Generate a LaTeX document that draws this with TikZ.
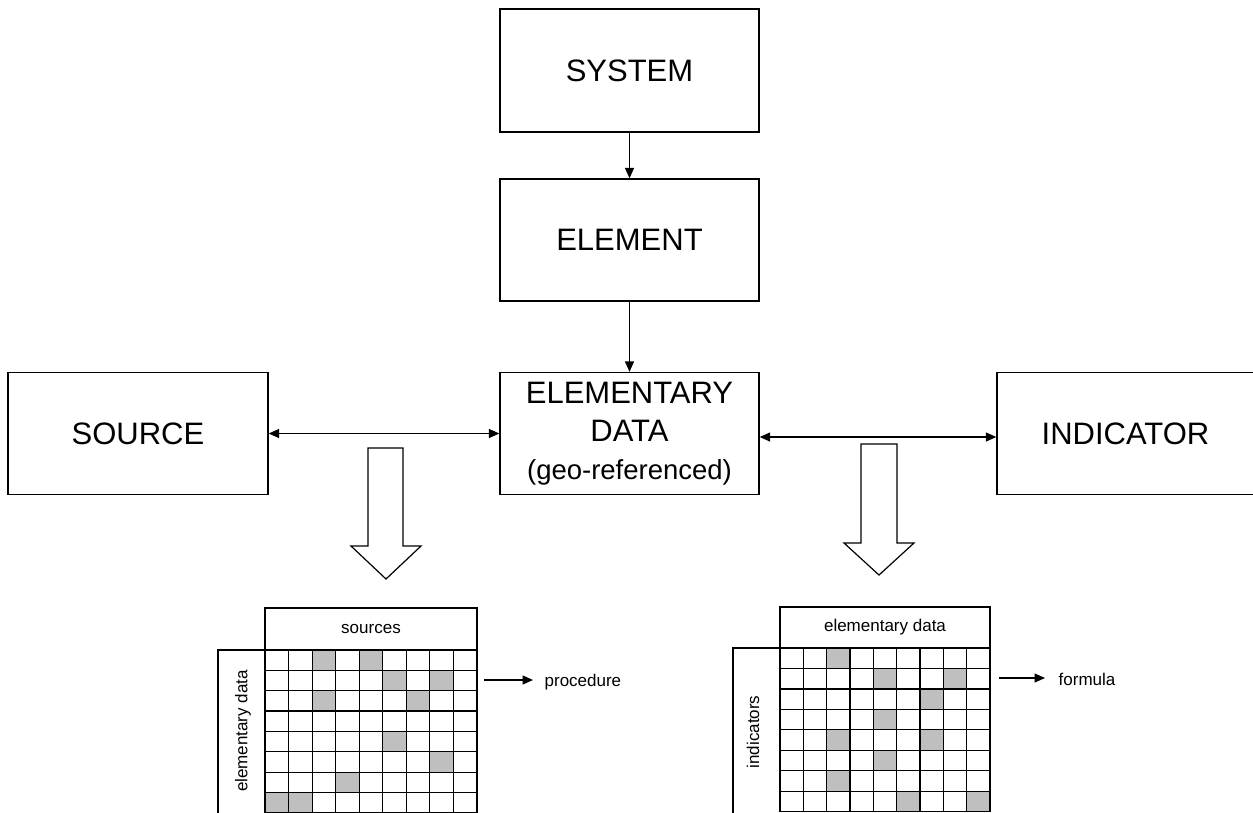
\documentclass[tikz,border=0pt]{standalone}
\usepackage{fontspec}
\setmainfont{Liberation Sans}
\usetikzlibrary{arrows.meta}
\begin{document}
\begin{tikzpicture}[x=1pt,y=-1pt,
  line width=1.3pt,
  bigbox/.style={draw, minimum width=259pt, minimum height=122pt, inner sep=0pt,
     font=\fontsize{31}{38}\selectfont, align=center},
  conn/.style={-{Triangle[length=10.5pt,width=9pt]}},
  dconn/.style={{Triangle[length=10.5pt,width=9pt]}-{Triangle[length=10.5pt,width=9pt]}},
  hollow/.style={draw, fill=white, line width=1.2pt, line join=miter},
  cell/.style={draw, line width=1.2pt},
  shade/.style={fill=black!25},
  small/.style={font=\fontsize{17}{20}\selectfont},
  hdr/.style={draw, line width=1.2pt, inner sep=0pt, font=\fontsize{17}{20}\selectfont}
]
\useasboundingbox (0,0) rectangle (1253,812);

% main boxes
\node[bigbox, minimum height=123pt] (sys) at (629.5,70.5) {SYSTEM};
\node[bigbox] (elem) at (629.5,240) {ELEMENT};
\node[bigbox] (ed) at (629.5,433.5) {ELEMENTARY\\DATA\\{\fontsize{27.5}{36}\selectfont (geo-referenced)}};
\node[bigbox, minimum width=260pt] (src) at (138,433.5) {SOURCE};
\node[bigbox, minimum width=257pt] (ind) at (1125.5,433.5) {INDICATOR};

% connectors
\draw[conn] (sys) -- (elem);
\draw[conn] (elem) -- (ed);
\draw[dconn] (src) -- (ed);
\draw[dconn] ([yshift=-3.5pt]ed.east) -- ([yshift=-3.5pt]ind.west);

% hollow arrows
\draw[hollow] (368,448) -- (403,448) -- (403,546) -- (421,546) -- (386,579)
   -- (351,546) -- (368,546) -- cycle;
\draw[hollow] (861,444) -- (897,444) -- (897,543) -- (914,543) -- (879,575)
   -- (844,543) -- (861,543) -- cycle;

% left grid
\def\cw{23.55}\def\rh{20.35}
\foreach \c/\r in {2/0,4/0,5/1,7/1,2/2,6/2,5/4,7/5,3/6,0/7,1/7}
  \fill[shade] (265+\c*\cw,650+\r*\rh) rectangle ++(\cw,\rh);
\foreach \c in {0,...,9} \draw[cell] (265+\c*\cw,650) -- (265+\c*\cw,650+8*\rh);
\foreach \r in {0,...,8} \draw[cell] (265,650+\r*\rh) -- (265+9*\cw,650+\r*\rh);
\node[hdr, minimum width=212pt, minimum height=42pt] (lh) at (371,629) {sources};
\draw[cell] (265,650) -- (218,650) -- (218,820);
\node[small, rotate=90] (ll) at (243,731) {elementary data};
\coordinate (p0) at (484,680);
\node[small, anchor=base west, inner sep=0pt] (proc) at (544,686) {procedure};
\draw[conn] (p0) -- ([xshift=-11pt]proc.west |- p0);

% right grid
\def\cwr{23.33}\def\rhr{20.45}
\foreach \c/\r in {2/0,4/1,7/1,6/2,4/3,2/4,6/4,4/5,2/6,5/7,8/7}
  \fill[shade] (780+\c*\cwr,648+\r*\rhr) rectangle ++(\cwr,\rhr);
\foreach \c in {0,...,9} \draw[cell] (780+\c*\cwr,648) -- (780+\c*\cwr,648+8*\rhr);
\foreach \r in {0,...,8} \draw[cell] (780,648+\r*\rhr) -- (780+9*\cwr,648+\r*\rhr);
\node[hdr, minimum width=210pt, minimum height=41pt] (rh) at (885,627.5) {elementary data};
\draw[cell] (780,648) -- (733,648) -- (733,820);
\node[small, rotate=90] (rl) at (753,732) {indicators};
\coordinate (f0) at (999,678);
\node[small, anchor=base west, inner sep=0pt] (form) at (1058,685) {formula};
\draw[conn] (f0) -- ([xshift=-13pt]form.west |- f0);
\end{tikzpicture}
\end{document}
